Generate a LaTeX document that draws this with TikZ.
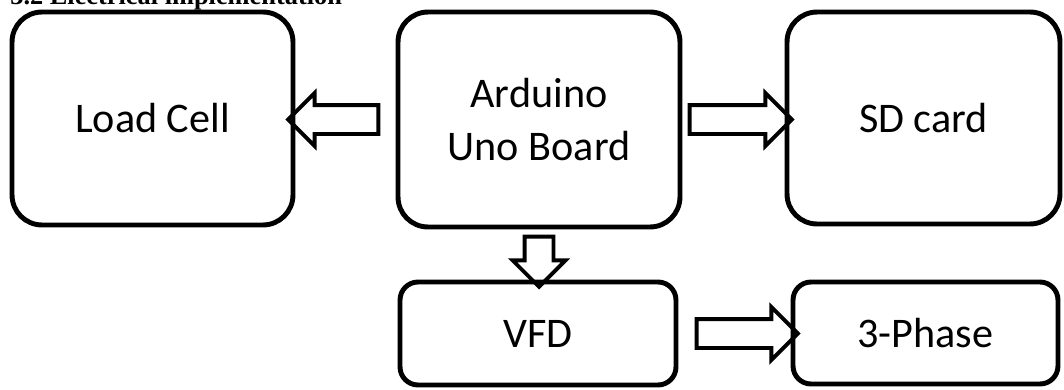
\documentclass[tikz,border=0pt]{standalone}
\usepackage{fontspec}
\setmainfont{Carlito}
\newfontfamily\titlefont{Liberation Serif}
\usetikzlibrary{shapes.arrows,calc}
\tikzset{
  block/.style={draw, line width=2.8pt, rounded corners=0.6cm, align=center,
    font=\fontsize{24}{30.5}\selectfont},
  smallblock/.style={block, rounded corners=0.36cm},
  fatarrow/.style={draw, line width=2.2pt, single arrow, single arrow head extend=0.24cm,
    inner xsep=0pt, inner ysep=0.25cm, minimum width=0pt, outer sep=0pt},
}
\newcommand{\blockarrow}[2]{%
  \path let \p1=(#1), \p2=(#2), \n1={atan2(\y2-\y1,\x2-\x1)}, \n2={veclen(\x2-\x1,\y2-\y1)} in
    node[fatarrow, minimum height=\n2, rotate=\n1] at ($(\p1)!.5!(\p2)$) {};}
\begin{document}
\begin{tikzpicture}[x=0.02cm, y=-0.02cm]
  \clip (0,0) rectangle (1064,389);
  \node[anchor=base west, inner sep=0pt, font=\titlefont\fontsize{15}{17}\selectfont\bfseries] (title) at (10,4) {3.2 Electrical implementation};
  \node[block, minimum width=5.62cm, minimum height=4.26cm] (lc) at (152.5,118.5) {Load Cell};
  \node[block, minimum width=5.64cm, minimum height=4.30cm] (ard) at (539,119.5) {Arduino\\Uno Board};
  \node[block, minimum width=5.46cm, minimum height=4.24cm] (sd) at (923.5,118) {SD card};
  \node[smallblock, minimum width=5.52cm, minimum height=2.06cm] (vfd) at (538,333.5) {VFD};
  \node[smallblock, minimum width=5.30cm, minimum height=2.04cm] (ph) at (925.5,333) {3-Phase};
  \blockarrow{[xshift=-0.2cm]ard.west}{ard.west -| lc.east}
  \blockarrow{ard.east}{ard.east -| sd.west}
  \blockarrow{ard.south}{ard.south |- vfd.north}
  \blockarrow{[xshift=0.22cm]vfd.east}{vfd.east -| ph.west}
\end{tikzpicture}
\end{document}
